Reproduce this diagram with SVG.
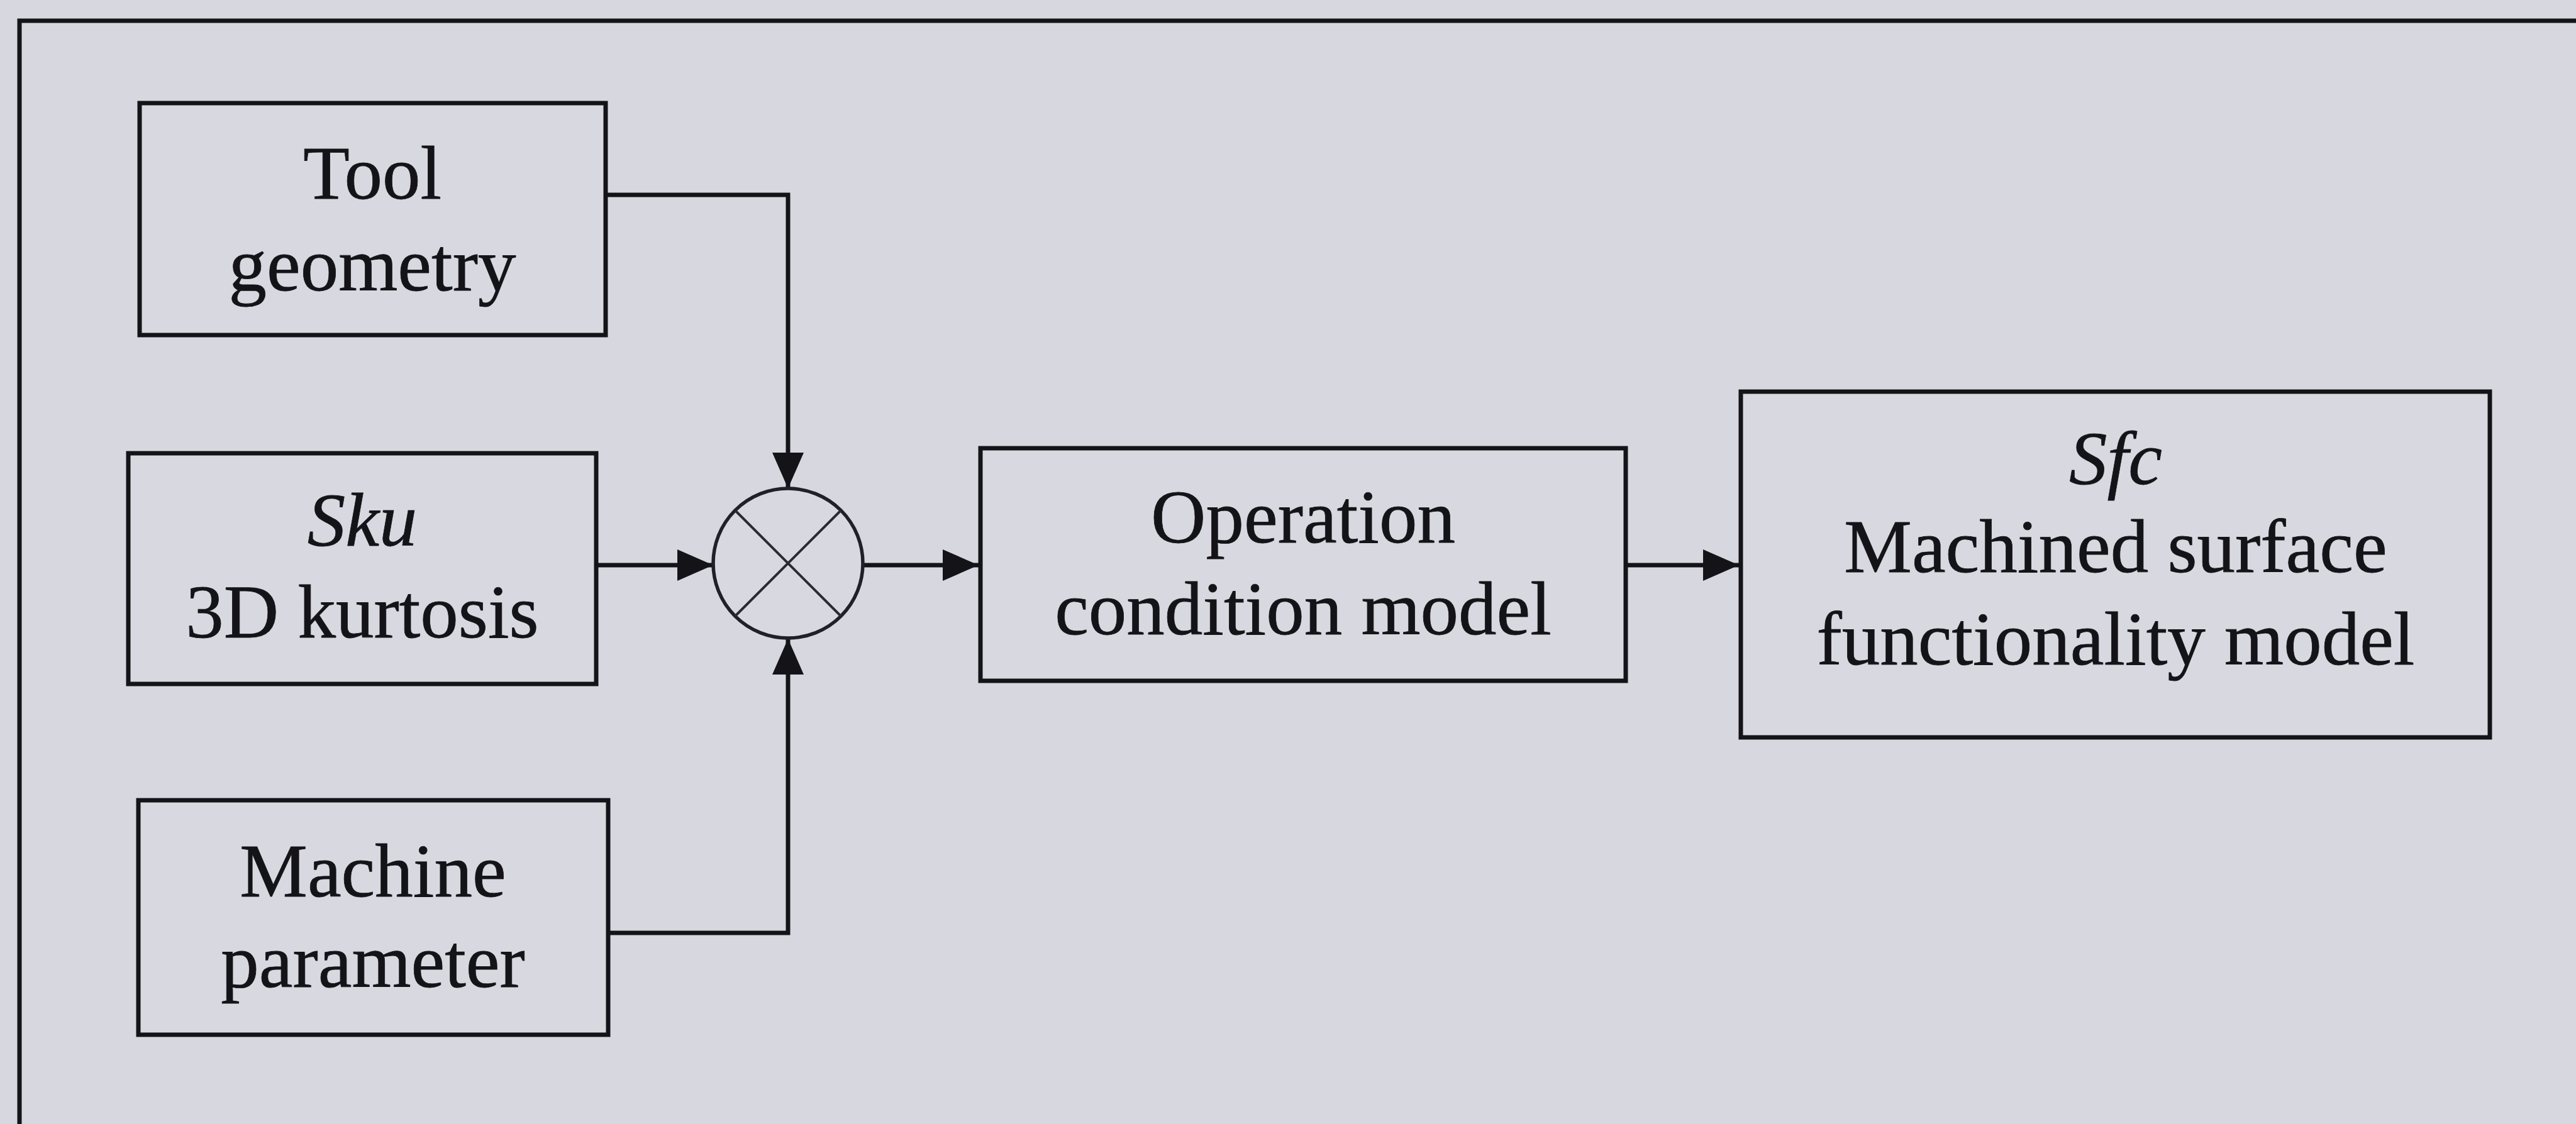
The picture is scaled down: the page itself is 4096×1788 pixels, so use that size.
<svg xmlns="http://www.w3.org/2000/svg" width="4096" height="1788" viewBox="0 0 4096 1788">
  <defs>
    <marker id="arrow" markerUnits="userSpaceOnUse" markerWidth="60" markerHeight="52" refX="57" refY="25" orient="auto">
      <path d="M0,0 L57,25 L0,50 Z" fill="#141418"/>
    </marker>
    <style>
      .box { fill: #d8d8e0; stroke: #141418; stroke-width: 7; }
      .wire { fill: none; stroke: #141418; stroke-width: 7; marker-end: url(#arrow); }
      .lbl { font-family: "Liberation Serif", "Times New Roman", serif; font-size: 121px; fill: #141418; stroke: #141418; stroke-width: 0.8; text-anchor: middle; }
      .sym { font-style: italic; }
    </style>
  </defs>

  <!-- paper -->
  <rect x="0" y="0" width="4096" height="1788" fill="#d7d7df"/>
  <!-- frame (top and left edges) -->
  <path d="M31,1800 V33 H4100" fill="none" stroke="#141418" stroke-width="7"/>

  <!-- connectors -->
  <g id="connectors">
    <path class="wire" d="M963,310 H1253 V777"/>
    <path class="wire" d="M948,899 H1134"/>
    <path class="wire" d="M967,1484 H1253 V1016"/>
    <path class="wire" d="M1372,899 H1556"/>
    <path class="wire" d="M2585,899 H2765"/>
  </g>

  <g id="tool-geometry">
    <rect class="box" x="222" y="164" width="741" height="369"/>
    <text class="lbl" x="592" y="316">Tool</text>
    <text class="lbl" x="592" y="462">geometry</text>
  </g>

  <g id="sku">
    <rect class="box" x="204" y="721" width="744" height="367"/>
    <text class="lbl sym" x="576" y="868">Sku</text>
    <text class="lbl" x="576" y="1014">3D kurtosis</text>
  </g>

  <g id="machine-parameter">
    <rect class="box" x="220" y="1273" width="747" height="373"/>
    <text class="lbl" x="593" y="1426">Machine</text>
    <text class="lbl" x="593" y="1570">parameter</text>
  </g>

  <g id="junction">
    <circle cx="1253" cy="896" r="119" fill="#d8d8e0" stroke="#202028" stroke-width="5.5"/>
    <path d="M1169,812 L1337,980 M1337,812 L1169,980" fill="none" stroke="#2a2a32" stroke-width="4"/>
  </g>

  <g id="operation-condition">
    <rect class="box" x="1559" y="713" width="1026" height="370"/>
    <text class="lbl" x="2072" y="863">Operation</text>
    <text class="lbl" x="2072" y="1009">condition model</text>
  </g>

  <g id="sfc">
    <rect class="box" x="2768" y="623" width="1191" height="550"/>
    <text class="lbl sym" x="3364" y="770">Sfc</text>
    <text class="lbl" x="3364" y="910">Machined surface</text>
    <text class="lbl" x="3364" y="1057">functionality model</text>
  </g>
</svg>
